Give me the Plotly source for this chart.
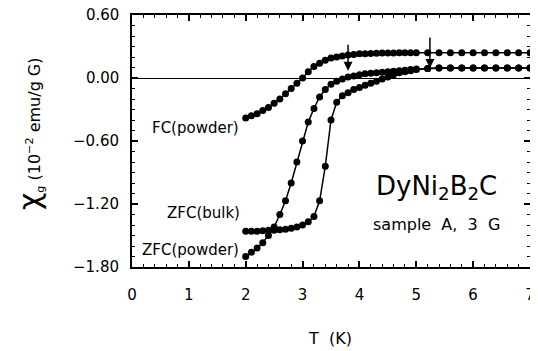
import plotly.graph_objects as go

# ---------------- data ----------------
t_fc = [2.0, 2.1, 2.2, 2.3, 2.4, 2.5, 2.6, 2.7, 2.8, 2.9, 3.0, 3.1, 3.2, 3.3, 3.4,
        3.5, 3.6, 3.7, 3.8, 3.9, 4.0, 4.1, 4.2, 4.3, 4.4, 4.5, 4.6, 4.7, 4.8, 4.9,
        5.0, 5.2, 5.4, 5.6, 5.8, 6.0, 6.2, 6.4, 6.6, 6.8, 7.0]
chi_fc = [-0.38, -0.36, -0.34, -0.31, -0.28, -0.24, -0.20, -0.15, -0.10, -0.05,
          0.00, 0.06, 0.11, 0.14, 0.17, 0.19, 0.20, 0.21, 0.22, 0.225, 0.23, 0.232,
          0.234, 0.236, 0.237, 0.238, 0.239, 0.24, 0.24, 0.24, 0.24, 0.24, 0.24,
          0.24, 0.24, 0.24, 0.24, 0.24, 0.24, 0.24, 0.24]

t_zfc_bulk = [2.0, 2.1, 2.2, 2.3, 2.4, 2.5, 2.6, 2.7, 2.8, 2.9, 3.0, 3.1, 3.2, 3.3,
              3.4, 3.5, 3.6, 3.7, 3.8, 3.9, 4.0, 4.1, 4.2, 4.3, 4.4, 4.5, 4.6, 4.7,
              4.8, 4.9, 5.0, 5.2, 5.4, 5.6, 5.8, 6.0, 6.2, 6.4, 6.6, 6.8, 7.0]
chi_zfc_bulk = [-1.46, -1.46, -1.46, -1.455, -1.45, -1.45, -1.445, -1.44, -1.43,
                -1.42, -1.40, -1.37, -1.32, -1.17, -0.84, -0.40, -0.23, -0.17,
                -0.14, -0.11, -0.09, -0.07, -0.05, -0.03, -0.01, 0.01, 0.03, 0.05,
                0.06, 0.07, 0.08, 0.09, 0.095, 0.095, 0.095, 0.095, 0.095, 0.095,
                0.095, 0.095, 0.095]

t_zfc_powder = [2.0, 2.1, 2.2, 2.3, 2.4, 2.5, 2.6, 2.7, 2.8, 2.9, 3.0, 3.1, 3.2,
                3.3, 3.4, 3.5, 3.6, 3.7, 3.8, 3.9, 4.0, 4.1, 4.2, 4.3, 4.4, 4.5,
                4.6, 4.7, 4.8, 4.9, 5.0, 5.2, 5.4, 5.6, 5.8, 6.0, 6.2, 6.4, 6.6,
                6.8, 7.0]
chi_zfc_powder = [-1.70, -1.66, -1.62, -1.57, -1.50, -1.42, -1.30, -1.17, -1.00,
                  -0.80, -0.60, -0.42, -0.29, -0.18, -0.11, -0.06, -0.03, -0.01,
                  0.01, 0.02, 0.03, 0.04, 0.045, 0.05, 0.055, 0.06, 0.065, 0.07,
                  0.075, 0.08, 0.085, 0.09, 0.095, 0.095, 0.095, 0.095, 0.095,
                  0.095, 0.095, 0.095, 0.095]

arrow_t = [3.8, 5.24]
arrow_tip = [0.07, 0.095]
arrow_tail = [0.33, 0.40]

x_ticks = [0, 1, 2, 3, 4, 5, 6, 7]
y_ticks = [-1.8, -1.2, -0.6, 0.0, 0.6]
y_ticktext = ["\u22121.80", "\u22121.20", "\u22120.60", "0.00", "0.60"]

FONT = "DejaVu Sans"

fig = go.Figure()
for tx, cy in [(t_fc, chi_fc), (t_zfc_bulk, chi_zfc_bulk), (t_zfc_powder, chi_zfc_powder)]:
    fig.add_trace(go.Scatter(
        x=tx, y=cy, mode="lines+markers", cliponaxis=False,
        line=dict(color="black", width=1.5),
        marker=dict(color="black", size=7),
        showlegend=False, hoverinfo="skip"))

annotations = []
for at, tip, tail in zip(arrow_t, arrow_tip, arrow_tail):
    annotations.append(dict(
        x=at, y=tip, ax=at, ay=tail, xref="x", yref="y", axref="x", ayref="y",
        text="", showarrow=True, arrowhead=2, arrowsize=1.2, arrowwidth=1.5,
        arrowcolor="black"))

# y tick labels, placed at the axis' tick values
for yv, yt in zip(y_ticks, y_ticktext):
    annotations.append(dict(
        x=0, y=yv, xref="paper", yref="y", text=yt, showarrow=False,
        xanchor="right", yanchor="middle", xshift=-11,
        font=dict(family=FONT, size=15, color="black")))

labels = [("FC(powder)", 1.92, -0.48), ("ZFC(bulk)", 1.94, -1.29),
          ("ZFC(powder)", 1.92, -1.64)]
for txt, lx, ly in labels:
    annotations.append(dict(
        x=lx, y=ly, xref="x", yref="y", text=txt, showarrow=False,
        xanchor="right", yanchor="middle",
        font=dict(family=FONT, size=15, color="black")))

annotations.append(dict(
    x=0.764, y=0.317, xref="paper", yref="paper",
    text="DyNi<sub>2</sub>B<sub>2</sub>C", showarrow=False,
    xanchor="center", yanchor="middle",
    font=dict(family=FONT, size=26, color="black")))
annotations.append(dict(
    x=0.766, y=0.167, xref="paper", yref="paper",
    text="sample\u00a0 A,\u00a0 3\u00a0 G", showarrow=False,
    xanchor="center", yanchor="middle",
    font=dict(family=FONT, size=16, color="black")))

annotations.append(dict(
    x=0.497, y=-0.282, xref="paper", yref="paper", text="T\u00a0 (K)",
    showarrow=False, xanchor="center", yanchor="middle",
    font=dict(family=FONT, size=16, color="black")))
annotations.append(dict(
    x=-0.256, y=0.528, xref="paper", yref="paper", textangle=-90,
    text="<span style='font-size:30px'>χ</span><sub>g</sub> (10<sup>−2</sup> emu/g G)",
    showarrow=False, xanchor="center", yanchor="middle",
    font=dict(family=FONT, size=16, color="black")))

axis_common = dict(
    showline=True, linecolor="black", linewidth=2, mirror="allticks",
    ticks="inside", ticklen=6, tickwidth=1.5, tickcolor="black",
    showgrid=False, automargin=False, ticklabeloverflow="allow",
    tickfont=dict(family=FONT, size=15, color="black"))

# the page body adds an 8px offset; the figure is sized so the plot area lands
# at the reference position in the 538x351 window
fig.update_layout(
    width=530, height=343,
    margin=dict(l=124, r=8, t=7, b=84),
    paper_bgcolor="white", plot_bgcolor="white",
    annotations=annotations,
    xaxis=dict(range=[0, 7], tickvals=x_ticks, zeroline=False,
               ticklabelstandoff=13,
               minor=dict(dtick=0.2, ticks="inside", ticklen=3, tickcolor="black",
                          tickwidth=1, showgrid=False),
               **axis_common),
    yaxis=dict(range=[-1.8, 0.6], tickvals=y_ticks, showticklabels=False,
               zeroline=True, zerolinecolor="black", zerolinewidth=1,
               minor=dict(dtick=0.1, ticks="inside", ticklen=3, tickcolor="black",
                          tickwidth=1, showgrid=False),
               **axis_common),
)

fig.write_html("out.html")
